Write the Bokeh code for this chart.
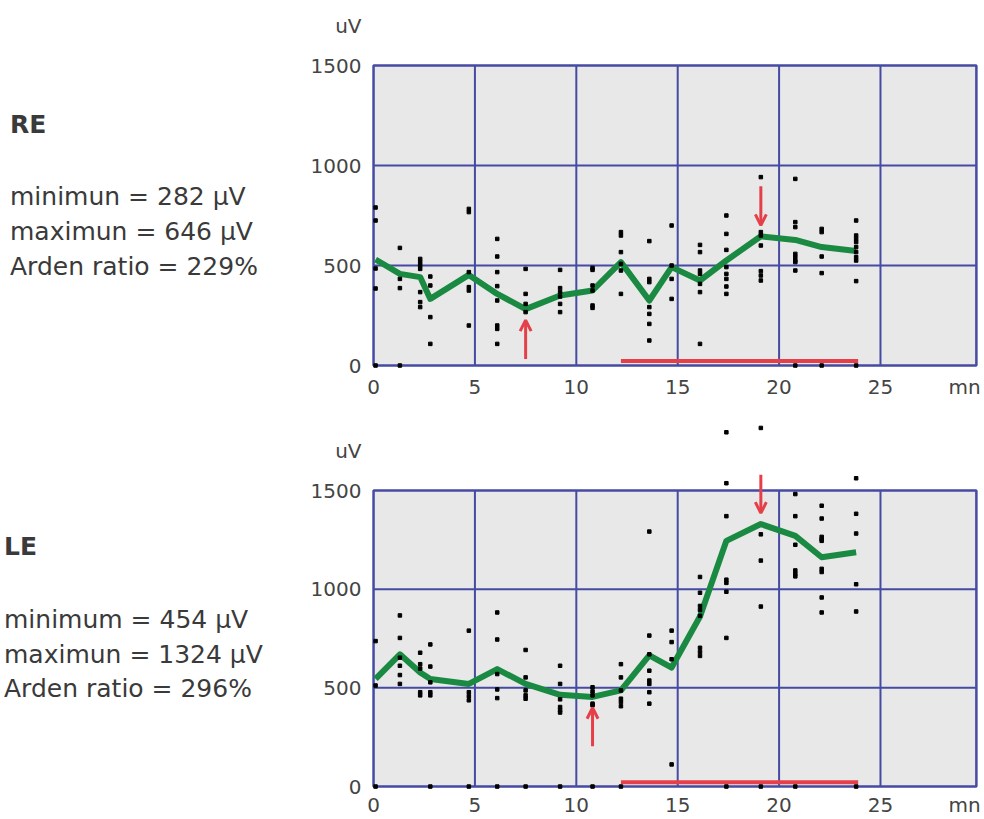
from bokeh.plotting import figure
from bokeh.layouts import column, row
from bokeh.models import FixedTicker, Arrow, OpenHead, Range1d, Div
from bokeh.embed import file_html
from bokeh.resources import INLINE

# ---------------- data ----------------
times = [0.1, 1.3, 2.3, 2.8, 4.7, 6.1, 7.5, 9.2, 10.8, 12.2, 13.6, 14.7,
         16.1, 17.4, 19.1, 20.8, 22.1, 23.8]

re_mean = [530, 458, 442, 333, 453, 358, 282, 350, 375, 517, 325, 492,
           425, 525, 646, 628, 592, 572]
le_mean = [545, 670, 578, 545, 520, 595, 520, 465, 454, 487, 665, 603,
           862, 1245, 1330, 1270, 1162, 1187]

re_dots = [
    [790, 725, 485, 385, 0],
    [588, 433, 387, 0],
    [533, 517, 500, 483, 367, 317, 292],
    [445, 400, 242, 108],
    [783, 767, 467, 392, 375, 200],
    [633, 545, 467, 397, 325, 200, 183, 108],
    [483, 358, 308, 267],
    [478, 387, 367, 345, 308, 267],
    [488, 478, 400, 375, 300, 288],
    [667, 650, 567, 508, 475, 358],
    [622, 433, 417, 292, 258, 208, 125],
    [700, 500, 433, 333],
    [603, 567, 475, 458, 408, 367, 108],
    [750, 658, 578, 492, 458, 433, 395, 358],
    [942, 667, 650, 600, 472, 450, 425],
    [933, 717, 692, 558, 542, 525, 517, 475, 0],
    [683, 667, 545, 462, 0],
    [725, 650, 633, 617, 592, 567, 542, 525, 422, 0],
]
le_dots = [
    [737, 512, 0],
    [867, 753, 653, 612, 565, 520],
    [678, 620, 598, 478, 462],
    [720, 608, 528, 478, 462, 0],
    [790, 478, 458, 437, 0],
    [882, 745, 570, 492, 448, 0],
    [692, 553, 487, 462, 445, 0],
    [612, 520, 442, 403, 387, 375, 0],
    [503, 482, 462, 420, 412, 0],
    [620, 553, 487, 445, 428, 407, 0],
    [1292, 765, 670, 587, 537, 520, 478, 420],
    [790, 732, 645, 112],
    [1062, 982, 915, 895, 865, 703, 682, 662],
    [1795, 1537, 1370, 1048, 1032, 987, 753, 0],
    [1817, 1278, 1145, 912, 0],
    [1482, 1370, 1225, 1095, 1078, 1065, 0],
    [1423, 1358, 1265, 1253, 1245, 1103, 1087, 958, 882],
    [1562, 1382, 1282, 1025, 887, 0],
]

light_on, light_off = 12.2, 23.9
x_ticks = [0, 5, 10, 15, 20, 25]
y_ticks = [0, 500, 1000, 1500]
x_max = 29.73
unit_tick = 29.15
unit_label = "mn"
y_unit_tick = 1700
y_label = "uV"

re_text = ["RE", "minimun = 282 µV", "maximun = 646 µV", "Arden ratio = 229%"]
le_text = ["LE", "minimum = 454 µV", "maximun = 1324 µV", "Arden ratio = 296%"]

# ---------------- style ----------------
BLUE = "#454ba2"
GREEN = "#1a8a42"
RED = "#e5404a"
BG = "#e8e8e8"
FONT = "DejaVu Sans"
TXT = "#3a3a3a"
TICK_TXT = "#444444"


def make_text(texts, height, x0, tops):
    parts = []
    for i, (s, tp) in enumerate(zip(texts, tops)):
        weight = "bold" if i == 0 else "normal"
        parts.append(
            f'<div style="position:absolute;left:{x0}px;top:{tp}px;'
            f'font-weight:{weight};white-space:nowrap;">{s}</div>')
    html = (f'<div style="position:relative;width:300px;height:{height}px;'
            f"font-family:'{FONT}';font-size:25px;line-height:25px;"
            f'color:{TXT};">' + "".join(parts) + "</div>")
    return Div(text=html, width=300, height=height, margin=(0, 0, 0, 0))


def make_panel(mean, dots, y_start, y_end, height, border_bottom, standoff):
    p = figure(width=684, height=height,
               x_range=Range1d(-0.15, 30.13), y_range=Range1d(y_start, y_end),
               output_backend="svg", toolbar_location=None,
               min_border_left=70, min_border_right=0,
               min_border_top=0, min_border_bottom=border_bottom)
    p.outline_line_color = None
    p.grid.visible = False

    # box
    p.quad(left=0, right=x_max, bottom=y_ticks[0], top=y_ticks[-1],
           fill_color=BG, line_color=None)
    # grid
    xs = x_ticks[1:]
    p.segment(x0=xs, y0=[y_ticks[0]] * len(xs), x1=xs, y1=[y_ticks[-1]] * len(xs),
              line_color=BLUE, line_width=2)
    ys = y_ticks[1:-1]
    p.segment(x0=[0] * len(ys), y0=ys, x1=[x_max] * len(ys), y1=ys,
              line_color=BLUE, line_width=2)
    p.quad(left=0, right=x_max, bottom=y_ticks[0], top=y_ticks[-1],
           fill_color=None, line_color=BLUE, line_width=2.5)

    # light bar
    bar_y = 22
    p.segment(x0=[light_on], y0=[bar_y], x1=[light_off], y1=[bar_y],
              line_color=RED, line_width=4)

    # mean curve
    p.line(times, mean, line_color=GREEN, line_width=6, line_join="round")

    # individual points
    dx, dy = [], []
    for t, col in zip(times, dots):
        for v in col:
            dx.append(t)
            dy.append(v)
    p.scatter(x=dx, y=dy, marker="square", size=3.5, fill_color="black",
              line_color="black")

    # arrows at min and max
    gap, length = 55, 195
    i_min = mean.index(min(mean))
    i_max = mean.index(max(mean))
    p.add_layout(Arrow(end=OpenHead(size=11, line_color=RED, line_width=3),
                       x_start=times[i_min], y_start=mean[i_min] - gap - length,
                       x_end=times[i_min], y_end=mean[i_min] - gap,
                       line_color=RED, line_width=3))
    p.add_layout(Arrow(end=OpenHead(size=11, line_color=RED, line_width=3),
                       x_start=times[i_max], y_start=mean[i_max] + gap + length,
                       x_end=times[i_max], y_end=mean[i_max] + gap,
                       line_color=RED, line_width=3))

    # axes
    p.xaxis.ticker = FixedTicker(ticks=x_ticks + [unit_tick])
    p.xaxis.major_label_overrides = {unit_tick: unit_label}
    p.yaxis.ticker = FixedTicker(ticks=y_ticks + [y_unit_tick])
    p.yaxis.major_label_overrides = {y_unit_tick: y_label}
    for ax in (p.xaxis, p.yaxis):
        ax.axis_line_color = None
        ax.major_tick_line_color = None
        ax.minor_tick_line_color = None
        ax.major_tick_out = 0
        ax.major_tick_in = 0
        ax.minor_tick_out = 0
        ax.major_label_text_font = FONT
        ax.major_label_text_font_size = "20px"
        ax.major_label_text_color = TICK_TXT
    p.xaxis.major_label_standoff = standoff
    p.yaxis.major_label_standoff = 9
    return p


top_chart = make_panel(re_mean, re_dots, -15, 1825, 401, 33, 6)
bottom_chart = make_panel(le_mean, le_dots, -15, 1951, 418, 30, 3)
top_text = make_text(re_text, 401, 10, [112, 184, 219, 254])
bottom_text = make_text(le_text, 418, 4, [133, 206, 241, 275])

layout = column(row(top_text, top_chart), row(bottom_text, bottom_chart))
open("out.html", "w").write(file_html(layout, INLINE))
